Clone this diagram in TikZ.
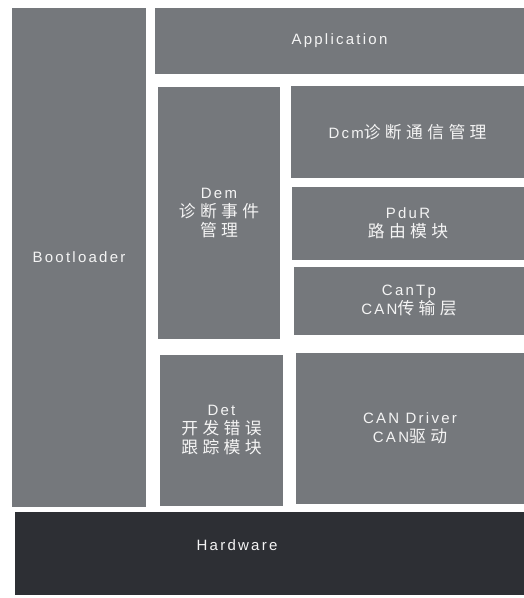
\documentclass[tikz,border=0pt]{standalone}
\usepackage{fontspec}
\setmainfont{Liberation Sans}[LetterSpace=15]
\newfontfamily\cjk{Noto Sans CJK SC}[Scale=1.12, LetterSpace=26]
\definecolor{boxgray}{HTML}{75787C}
\definecolor{hwdark}{HTML}{2D2F34}
\definecolor{txt}{HTML}{F4F4F4}
\begin{document}
\begin{tikzpicture}[x=1pt,y=-1pt,
  blk/.style={fill=boxgray, draw=none, inner sep=0pt, text=txt, align=center,
    font=\fontsize{15}{19}\selectfont},
  hw/.style={fill=hwdark, draw=none, inner sep=0pt},
  lbl/.style={text=txt, inner sep=0pt, font=\fontsize{15}{19}\selectfont}]
\useasboundingbox (0,0) rectangle (524,598);
% Bootloader
\node[blk, minimum width=134, minimum height=499] (boot) at (79,257.5) {Bootloader};
% Application
\node[blk, minimum width=369, minimum height=66] (app) at (339.5,41) {Application};
% Dem
\node[blk, minimum width=122, minimum height=252] (dem) at (219,213)
  {Dem\\{\cjk 诊断事件}\\{\cjk 管理}};
% Dcm
\node[blk, minimum width=233, minimum height=92] (dcm) at (407.5,132)
  {Dcm{\cjk 诊断通信管理}};
% PduR
\node[blk, minimum width=232, minimum height=73] (pdur) at (408,223.5)
  {PduR\\{\cjk 路由模块}};
% CanTp
\node[blk, minimum width=230, minimum height=68] (cantp) at (409,301)
  {CanTp\\CAN{\cjk 传输层}};
% Det
\node[blk, minimum width=123, minimum height=151] (det) at (221.5,430.5)
  {Det\\{\cjk 开发错误}\\{\cjk 跟踪模块}};
% CAN Driver
\node[blk, minimum width=228, minimum height=151] (drv) at (410,428.5)
  {CAN Driver\\CAN{\cjk 驱动}};
% Hardware
\node[hw, minimum width=509, minimum height=83] (hw) at (269.5,553.5) {};
\node[lbl] (hwt) at (237,545) {Hardware};
\end{tikzpicture}
\end{document}
